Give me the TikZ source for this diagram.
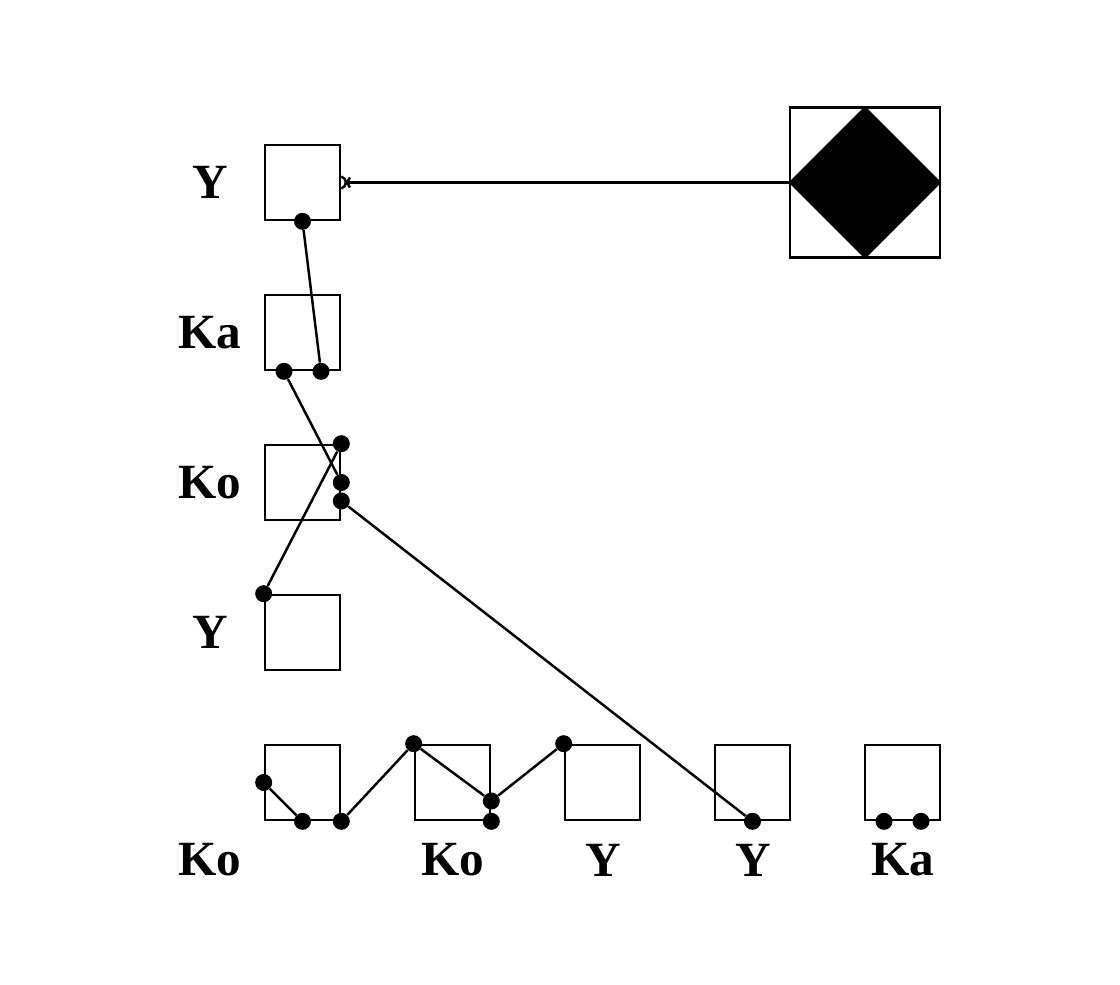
\documentclass[tikz,border=0pt]{standalone}
\usepackage{fontspec}
\setmainfont{Liberation Serif}
\begin{document}
\begin{tikzpicture}[
  box/.style={draw, line width=1.5pt, minimum size=1.5cm, inner sep=0pt},
  dot/.style={circle, fill, inner sep=0pt, minimum size=0.34cm},
  lab/.style={font=\fontsize{28}{30}\selectfont\bfseries, inner sep=0pt},
  link/.style={line width=1.4pt}
]
  \useasboundingbox (-6.05,-4.03) rectangle (16.35,15.65);
  % left column
  \node[box] (1) at (0, 12) {};
  \node[box] (2) at (0, 9) {};
  \node[box] (3) at (0, 6) {};
  \node[box] (4) at (0, 3) {};
  % bottom row
  \node[box] (5) at (0, 0) {};
  \node[box] (6) at (3, 0) {};
  \node[box] (7) at (6, 0) {};
  \node[box] (8) at (9, 0) {};
  \node[box] (9) at (12, 0) {};
  % big box
  \node[box, minimum size=3cm] (big) at (11.25, 12) {};
  \fill (big.west) -- (big.north) -- (big.east) -- (big.south) -- cycle;
  % labels
  \node[lab] (l1) at (-1.85, 12) {Y};
  \node[lab] (l2) at (-1.85, 9) {Ka};
  \node[lab] (l3) at (-1.85, 6) {Ko};
  \node[lab] (l4) at (-1.85, 3) {Y};
  \node[lab] (l5) at (-1.85, -1.55) {Ko};
  \node[lab] (l6) at (3.01, -1.55) {Ko};
  \node[lab] (l7) at (6.01, -1.55) {Y};
  \node[lab] (l8) at (9.01, -1.55) {Y};
  \node[lab] (l9) at (12.01, -1.55) {Ka};
  % dots
  \node[dot] (d1) at (1.south) {};
  \node[dot] (d2) at ([xshift=-0.37cm]2.south) {};
  \node[dot] (d3) at ([xshift=0.37cm]2.south) {};
  \node[dot] (d4) at (3.north east) {};
  \node[dot] (d5) at (3.east) {};
  \node[dot] (d6) at ([yshift=-0.37cm]3.east) {};
  \node[dot] (d7) at (4.north west) {};
  \node[dot] (d8) at (5.west) {};
  \node[dot] (d9) at (5.south) {};
  \node[dot] (d10) at (5.south east) {};
  \node[dot] (d11) at (6.north west) {};
  \node[dot] (d12) at ([yshift=-0.37cm]6.east) {};
  \node[dot] (d13) at (6.south east) {};
  \node[dot] (d14) at (7.north west) {};
  \node[dot] (d15) at (8.south) {};
  \node[dot] (d16) at ([xshift=-0.37cm]9.south) {};
  \node[dot] (d17) at ([xshift=0.37cm]9.south) {};
  % hook end on the top box
  \coordinate (h) at ([xshift=0.09cm]1.east);
  \draw[link] (big.west) -- (h);
  \draw[link] ([yshift=0.12cm]1.east) to[bend left=35] (h) to[bend left=35] ([yshift=-0.12cm]1.east);
  \draw[link] (h) to[bend right=20] ++(0.08,0.1);
  \draw[link] (h) to[bend left=20] ++(0.08,-0.1);
  % links
  \draw[link] (d1) -- (d3);
  \draw[link] (d2) -- (d5);
  \draw[link] (d4) -- (d7);
  \draw[link] (d6) -- (d15);
  \draw[link] (d8) -- (d9);
  \draw[link] (d10) -- (d11) -- (d12) -- (d14);
\end{tikzpicture}
\end{document}
